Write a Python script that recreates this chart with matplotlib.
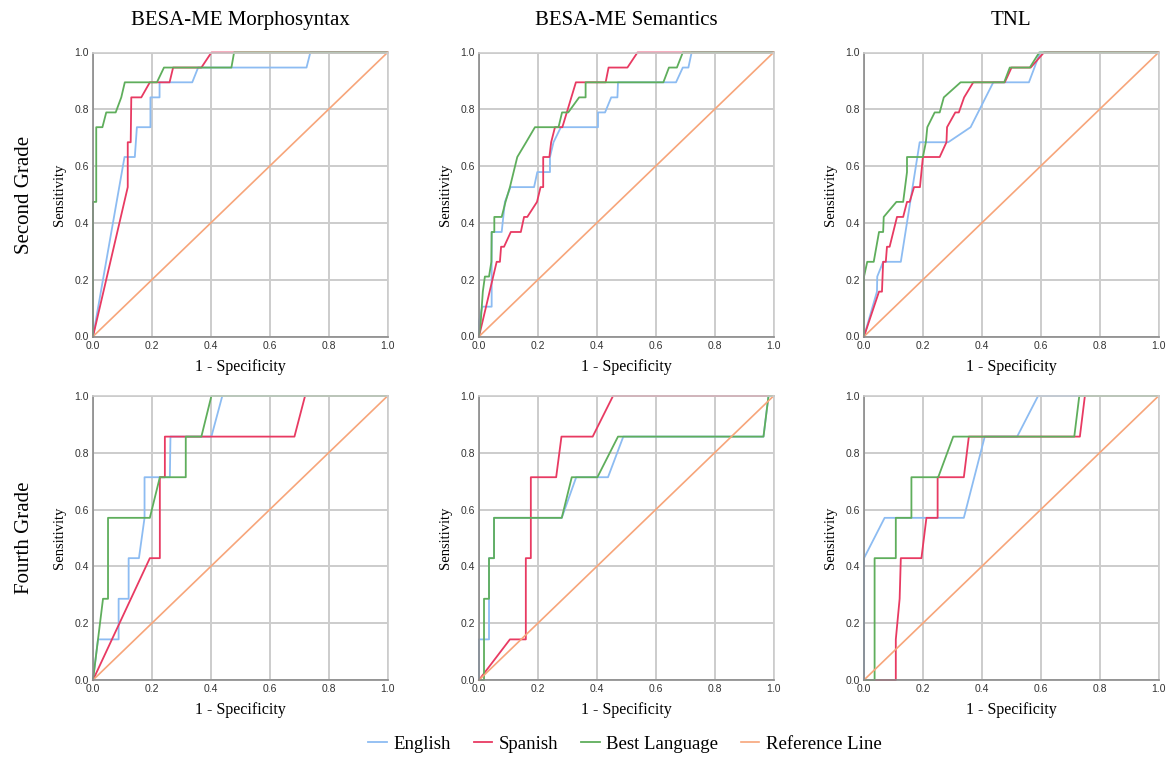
import matplotlib
matplotlib.use("Agg")
import matplotlib.pyplot as plt

# column titles and row labels
measures = ["BESA-ME Morphosyntax", "BESA-ME Semantics", "TNL"]
grades = ["Second Grade", "Fourth Grade"]
series_names = ["English", "Spanish", "Best Language", "Reference Line"]
colors = ["#8dbcf2", "#e83a62", "#5fae5c", "#f7a57a"]

# ---- Second grade, Morphosyntax
g2_morph_eng_x = [0, 0.107, 0.142, 0.149, 0.195, 0.195, 0.226, 0.226, 0.337, 0.357, 0.725, 0.738, 1.0]
g2_morph_eng_y = [0, 0.632, 0.632, 0.737, 0.737, 0.842, 0.842, 0.895, 0.895, 0.947, 0.947, 1.0, 1.0]
g2_morph_spa_x = [0, 0.118, 0.118, 0.128, 0.130, 0.164, 0.193, 0.260, 0.272, 0.368, 0.402, 1.0]
g2_morph_spa_y = [0, 0.526, 0.684, 0.684, 0.842, 0.842, 0.895, 0.895, 0.947, 0.947, 1.0, 1.0]
g2_morph_best_x = [0, 0, 0.011, 0.011, 0.032, 0.045, 0.077, 0.096, 0.108, 0.217, 0.241, 0.470, 0.479, 1.0]
g2_morph_best_y = [0, 0.474, 0.474, 0.737, 0.737, 0.789, 0.789, 0.842, 0.895, 0.895, 0.947, 0.947, 1.0, 1.0]

# ---- Second grade, Semantics
g2_sem_eng_x = [0, 0, 0.011, 0.043, 0.043, 0.077, 0.088, 0.107, 0.187, 0.198, 0.241, 0.241, 0.253,
                0.278, 0.404, 0.404, 0.428, 0.449, 0.470, 0.472, 0.669, 0.692, 0.711, 0.722, 1.0]
g2_sem_eng_y = [0, 0.053, 0.105, 0.105, 0.368, 0.368, 0.474, 0.526, 0.526, 0.579, 0.579, 0.632, 0.684,
                0.737, 0.737, 0.789, 0.789, 0.842, 0.842, 0.895, 0.895, 0.947, 0.947, 1.0, 1.0]
g2_sem_spa_x = [0, 0.060, 0.071, 0.075, 0.085, 0.108, 0.142, 0.153, 0.164, 0.197, 0.209, 0.218, 0.218,
                0.239, 0.245, 0.258, 0.283, 0.329, 0.430, 0.440, 0.504, 0.538, 1.0]
g2_sem_spa_y = [0, 0.263, 0.263, 0.316, 0.316, 0.368, 0.368, 0.421, 0.421, 0.474, 0.526, 0.526, 0.632,
                0.632, 0.684, 0.737, 0.737, 0.895, 0.895, 0.947, 0.947, 1.0, 1.0]
g2_sem_best_x = [0, 0.006, 0.013, 0.020, 0.034, 0.042, 0.043, 0.052, 0.052, 0.077, 0.090, 0.105, 0.130,
                 0.160, 0.190, 0.270, 0.282, 0.303, 0.340, 0.362, 0.362, 0.626, 0.645, 0.672, 0.692, 1.0]
g2_sem_best_y = [0, 0.053, 0.158, 0.211, 0.211, 0.263, 0.368, 0.368, 0.421, 0.421, 0.474, 0.526, 0.632,
                 0.684, 0.737, 0.737, 0.789, 0.789, 0.842, 0.842, 0.895, 0.895, 0.947, 0.947, 1.0, 1.0]

# ---- Second grade, TNL
g2_tnl_eng_x = [0, 0.044, 0.045, 0.065, 0.125, 0.189, 0.286, 0.362, 0.439, 0.560, 0.598, 1.0]
g2_tnl_eng_y = [0, 0.158, 0.211, 0.263, 0.263, 0.684, 0.684, 0.737, 0.895, 0.895, 1.0, 1.0]
g2_tnl_spa_x = [0, 0.051, 0.061, 0.065, 0.074, 0.078, 0.087, 0.112, 0.133, 0.146, 0.155, 0.170, 0.190,
                0.200, 0.257, 0.280, 0.282, 0.310, 0.322, 0.340, 0.371, 0.478, 0.501, 0.566, 0.611, 1.0]
g2_tnl_spa_y = [0, 0.158, 0.158, 0.263, 0.263, 0.316, 0.316, 0.421, 0.421, 0.474, 0.474, 0.526, 0.526,
                0.632, 0.632, 0.684, 0.737, 0.789, 0.789, 0.842, 0.895, 0.895, 0.947, 0.947, 1.0, 1.0]
g2_tnl_best_x = [0, 0, 0.011, 0.033, 0.051, 0.065, 0.067, 0.110, 0.133, 0.146, 0.146, 0.200, 0.210,
                 0.215, 0.240, 0.257, 0.271, 0.328, 0.476, 0.495, 0.563, 0.595, 1.0]
g2_tnl_best_y = [0, 0.211, 0.263, 0.263, 0.368, 0.368, 0.421, 0.474, 0.474, 0.579, 0.632, 0.632, 0.684,
                 0.737, 0.789, 0.789, 0.842, 0.895, 0.895, 0.947, 0.947, 1.0, 1.0]

# ---- Fourth grade, Morphosyntax
g4_morph_eng_x = [0, 0.017, 0.087, 0.087, 0.121, 0.121, 0.156, 0.175, 0.175, 0.261, 0.263, 0.402, 0.439, 1.0]
g4_morph_eng_y = [0, 0.143, 0.143, 0.286, 0.286, 0.429, 0.429, 0.571, 0.714, 0.714, 0.857, 0.857, 1.0, 1.0]
g4_morph_spa_x = [0, 0.193, 0.227, 0.227, 0.244, 0.244, 0.684, 0.720, 1.0]
g4_morph_spa_y = [0, 0.429, 0.429, 0.714, 0.714, 0.857, 0.857, 1.0, 1.0]
g4_morph_best_x = [0, 0.034, 0.051, 0.051, 0.193, 0.227, 0.315, 0.315, 0.368, 0.402, 1.0]
g4_morph_best_y = [0, 0.286, 0.286, 0.571, 0.571, 0.714, 0.714, 0.857, 0.857, 1.0, 1.0]

# ---- Fourth grade, Semantics
g4_sem_eng_x = [0, 0, 0.034, 0.034, 0.051, 0.051, 0.281, 0.330, 0.438, 0.490, 0.966, 0.983, 1.0]
g4_sem_eng_y = [0, 0.143, 0.143, 0.429, 0.429, 0.571, 0.571, 0.714, 0.714, 0.857, 0.857, 1.0, 1.0]
g4_sem_spa_x = [0, 0.105, 0.159, 0.159, 0.176, 0.176, 0.262, 0.280, 0.386, 0.455, 1.0]
g4_sem_spa_y = [0, 0.143, 0.143, 0.429, 0.429, 0.714, 0.714, 0.857, 0.857, 1.0, 1.0]
g4_sem_best_x = [0, 0.017, 0.017, 0.034, 0.034, 0.051, 0.051, 0.281, 0.315, 0.402, 0.472, 0.966, 0.983, 1.0]
g4_sem_best_y = [0, 0, 0.286, 0.286, 0.429, 0.429, 0.571, 0.571, 0.714, 0.714, 0.857, 0.857, 1.0, 1.0]

# ---- Fourth grade, TNL
g4_tnl_eng_x = [0, 0, 0.070, 0.339, 0.410, 0.520, 0.591, 1.0]
g4_tnl_eng_y = [0, 0.429, 0.571, 0.571, 0.857, 0.857, 1.0, 1.0]
g4_tnl_spa_x = [0, 0.108, 0.108, 0.121, 0.125, 0.195, 0.212, 0.250, 0.250, 0.339, 0.356, 0.733, 0.750, 1.0]
g4_tnl_spa_y = [0, 0, 0.143, 0.286, 0.429, 0.429, 0.571, 0.571, 0.714, 0.714, 0.857, 0.857, 1.0, 1.0]
g4_tnl_best_x = [0, 0.036, 0.036, 0.108, 0.108, 0.161, 0.161, 0.252, 0.303, 0.714, 0.731, 1.0]
g4_tnl_best_y = [0, 0, 0.429, 0.429, 0.571, 0.571, 0.714, 0.714, 0.857, 0.857, 1.0, 1.0]

ref_x = [0, 1]
ref_y = [0, 1]

curves = [
    [[(g2_morph_eng_x, g2_morph_eng_y), (g2_morph_spa_x, g2_morph_spa_y), (g2_morph_best_x, g2_morph_best_y)],
     [(g2_sem_eng_x, g2_sem_eng_y), (g2_sem_spa_x, g2_sem_spa_y), (g2_sem_best_x, g2_sem_best_y)],
     [(g2_tnl_eng_x, g2_tnl_eng_y), (g2_tnl_spa_x, g2_tnl_spa_y), (g2_tnl_best_x, g2_tnl_best_y)]],
    [[(g4_morph_eng_x, g4_morph_eng_y), (g4_morph_spa_x, g4_morph_spa_y), (g4_morph_best_x, g4_morph_best_y)],
     [(g4_sem_eng_x, g4_sem_eng_y), (g4_sem_spa_x, g4_sem_spa_y), (g4_sem_best_x, g4_sem_best_y)],
     [(g4_tnl_eng_x, g4_tnl_eng_y), (g4_tnl_spa_x, g4_tnl_spa_y), (g4_tnl_best_x, g4_tnl_best_y)]],
]

serif = "Liberation Serif"
sans = "Liberation Sans"

fig = plt.figure(figsize=(11.75, 7.6), dpi=100)

lefts = [93 / 1175, 479 / 1175, 864 / 1175]
bottoms = [(760 - 336.5) / 760, (760 - 680) / 760]
w = 294.5 / 1175
h = 284 / 760

ticks = [0, 0.2, 0.4, 0.6, 0.8, 1.0]
handles = []
for r in range(2):
    for c in range(3):
        ax = fig.add_axes([lefts[c], bottoms[r], w, h])
        ax.set_xlim(0, 1)
        ax.set_ylim(0, 1)
        ax.set_xticks(ticks)
        ax.set_yticks(ticks)
        ax.set_xticklabels([f"{t:.1f}" for t in ticks], fontsize=7.5, family=sans, color="#333333")
        ax.set_yticklabels([f"{t:.1f}" for t in ticks], fontsize=7.5, family=sans, color="#333333")
        ax.tick_params(length=0, pad=3)
        ax.grid(True, color="#cccccc", linewidth=1.4)
        ax.set_axisbelow(True)
        for s in ["top", "right"]:
            ax.spines[s].set_color("#cccccc")
            ax.spines[s].set_linewidth(1.2)
        for s in ["left", "bottom"]:
            ax.spines[s].set_color("#8a8a8a")
            ax.spines[s].set_linewidth(1.2)
        hs = []
        for (xs, ys), col, name in zip(curves[r][c], colors, series_names):
            ln, = ax.plot(xs, ys, color=col, linewidth=1.3, label=name, clip_on=False)
            hs.append(ln)
        ln, = ax.plot(ref_x, ref_y, color=colors[3], linewidth=1.2, label=series_names[3], clip_on=False)
        hs.append(ln)
        handles = hs
        ax.set_xlabel("1 - Specificity", fontsize=11.5, family=serif, labelpad=6)
        ax.set_ylabel("Sensitivity", fontsize=10.5, family=serif, labelpad=6)
        if r == 0:
            ax.set_title(measures[c], fontsize=15, family=serif, pad=20)
    fig.text(25 / 1175, (bottoms[r] + h / 2), grades[r], rotation=90, fontsize=15,
             family=serif, ha="center", va="center")

fig.legend(handles, series_names, loc="center", bbox_to_anchor=(0.532, 1 - 744 / 760), ncol=4,
           frameon=False, prop={"family": serif, "size": 13.5}, handlelength=1.0,
           columnspacing=1.2, handletextpad=0.35)

fig.savefig("out.png", dpi=100, facecolor="white")
